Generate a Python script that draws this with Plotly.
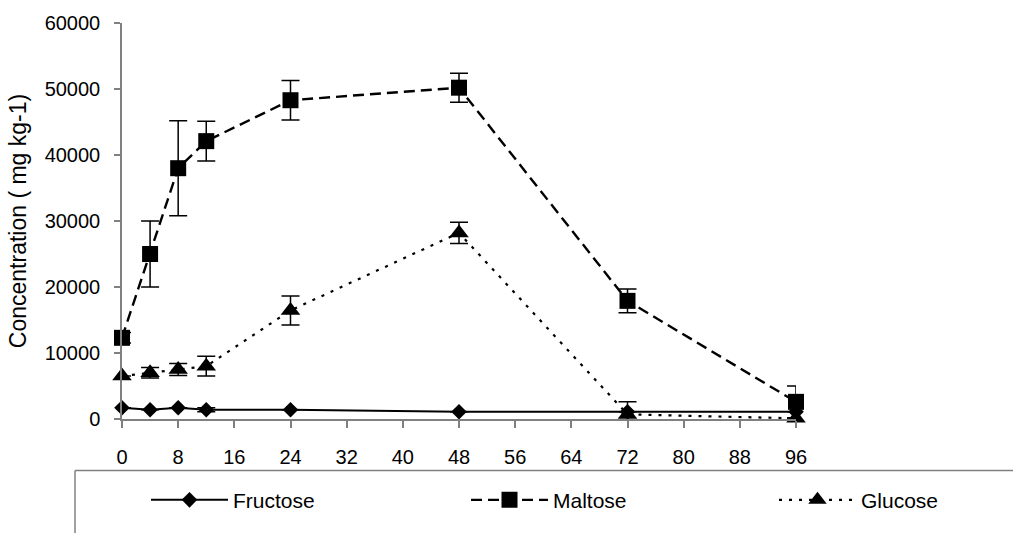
import plotly.graph_objects as go

hours = [0, 4, 8, 12, 24, 48, 72, 96]

fructose = [1700, 1400, 1700, 1400, 1400, 1100, 1100, 1100]
fructose_err = [0, 0, 0, 300, 0, 0, 0, 0]

maltose = [12300, 25000, 38000, 42100, 48300, 50200, 17900, 2600]
maltose_err = [800, 5000, 7200, 3000, 3000, 2200, 1800, 2400]

glucose = [6500, 7000, 7500, 8000, 16450, 28200, 700, 100]
glucose_err = [0, 800, 900, 1500, 2200, 1600, 1900, 0]

x_ticks = [0, 8, 16, 24, 32, 40, 48, 56, 64, 72, 80, 88, 96]
y_ticks = [0, 10000, 20000, 30000, 40000, 50000, 60000]

FONT = "Liberation Sans, Arial, sans-serif"

L, T, R, B = 122, 20, 796, 420
def px_x(p):
    return (p - L) / (R - L)
def px_y(p):
    return (B - p) / (B - T)

fig = go.Figure()

fig.add_trace(go.Scatter(
    x=hours, y=fructose, name="Fructose", mode="lines+markers", legend="legend",
    line=dict(color="black", width=2),
    marker=dict(symbol="diamond", size=12, color="black"),
    error_y=dict(type="data", array=fructose_err, color="black", thickness=1.5, width=9),
    cliponaxis=False,
))
fig.add_trace(go.Scatter(
    x=hours, y=maltose, name="Maltose", mode="lines+markers", legend="legend2",
    line=dict(color="black", width=2.4, dash="11px,6px"),
    marker=dict(symbol="square", size=16, color="black"),
    error_y=dict(type="data", array=maltose_err, color="black", thickness=1.5, width=9),
    cliponaxis=False,
))
fig.add_trace(go.Scatter(
    x=hours, y=glucose, name="Glucose", mode="lines+markers", legend="legend3",
    line=dict(color="black", width=2.2, dash="3px,7px"),
    marker=dict(symbol="triangle-up", size=17, color="black"),
    error_y=dict(type="data", array=glucose_err, color="black", thickness=1.5, width=9),
    cliponaxis=False,
))

# legend frame (partially outside the picture, as in the reference)
fig.add_shape(type="line", xref="paper", yref="paper",
              x0=px_x(75), x1=px_x(1100), y0=px_y(472), y1=px_y(472),
              line=dict(color="#808080", width=1.5))
fig.add_shape(type="line", xref="paper", yref="paper",
              x0=px_x(75), x1=px_x(75), y0=px_y(472), y1=px_y(600),
              line=dict(color="#808080", width=1.5))

def leg(xpx):
    return dict(
        orientation="h", x=px_x(xpx), xanchor="left", y=px_y(502), yanchor="middle",
        font=dict(family=FONT, size=21, color="black"),
        itemwidth=77, bgcolor="rgba(0,0,0,0)",
    )

fig.update_layout(
    width=1013, height=533,
    margin=dict(l=L, r=1013 - R, t=T, b=533 - B),
    paper_bgcolor="white", plot_bgcolor="white",
    font=dict(family=FONT, size=20, color="black"),
    showlegend=True,
    legend=leg(146), legend2=leg(466), legend3=leg(774),
    xaxis=dict(
        range=[0, 96], tickmode="array", tickvals=x_ticks,
        showgrid=False, zeroline=False,
        showline=True, linecolor="#808080", linewidth=1.5,
        ticks="outside", ticklen=7, tickcolor="#808080", tickwidth=1.5,
        ticklabelstandoff=12,
        tickfont=dict(family=FONT, size=20, color="black"),
    ),
    yaxis=dict(
        range=[0, 60000], tickmode="array", tickvals=y_ticks,
        ticktext=[str(v) for v in y_ticks],
        showgrid=False, zeroline=False,
        showline=True, linecolor="#808080", linewidth=1.5,
        ticks="outside", ticklen=6, tickcolor="#808080", tickwidth=1.5,
        ticklabelstandoff=10,
        tickfont=dict(family=FONT, size=20, color="black"),
        title=dict(text="Concentration ( mg kg-1)", standoff=12,
                   font=dict(family=FONT, size=23, color="black")),
    ),
)

fig.write_html("out.html")
